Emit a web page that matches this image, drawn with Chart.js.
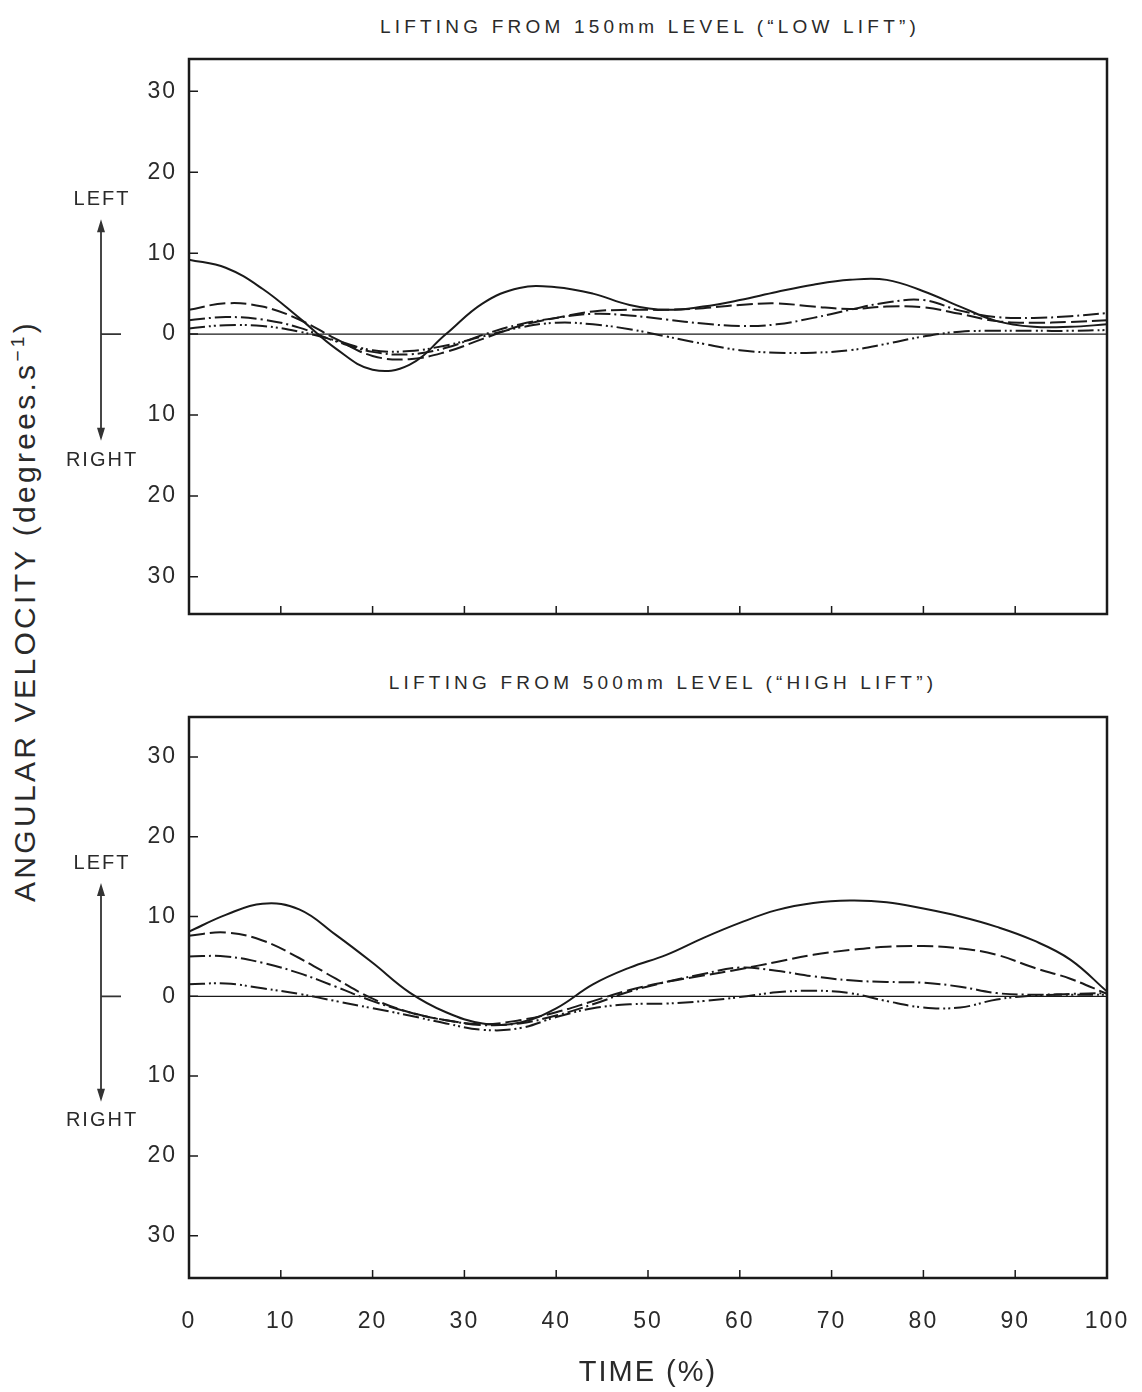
<!DOCTYPE html>
<html lang="en">
<head>
    <meta charset="UTF-8">
    <title>Angular velocity - low lift and high lift</title>
    <script src="https://cdn.jsdelivr.net/npm/chart.js"></script>
    <style>
        body { margin: 0; background: #fff; }
        #page { position: relative; width: 1142px; height: 1392px; font-family: "Liberation Sans", Arial, sans-serif; color: #2a2a2a; }
        .wrap { position: absolute; left: 0; width: 1142px; }
        .title { position: absolute; font-size: 19px; letter-spacing: 4.2px; white-space: nowrap; transform: translate(-50%, -50%); }
        #ytitle { position: absolute; left: 24px; top: 611px; font-size: 30px; letter-spacing: 3.3px; white-space: nowrap;
                  transform: translate(-50%, -50%) rotate(-90deg); }
        #ytitle sup { font-size: 19px; }
    </style>
</head>
<body>
<div id="page">
    <div class="title" style="left:650px; top:27px;">LIFTING FROM 150mm LEVEL (&ldquo;LOW LIFT&rdquo;)</div>
    <div class="title" style="left:663px; top:683px;">LIFTING FROM 500mm LEVEL (&ldquo;HIGH LIFT&rdquo;)</div>
    <div id="ytitle">ANGULAR VELOCITY (degrees.s<sup>&minus;1</sup>)</div>
    <div class="wrap" style="top:0; height:650px;"><canvas id="lowChart"></canvas></div>
    <div class="wrap" style="top:650px; height:742px;"><canvas id="highChart"></canvas></div>
</div>
<script>
// time axis (% of lift), shared by every curve
const timePct = [0, 4, 8, 12, 16, 20, 24, 28, 32, 36, 40, 44, 48, 52, 56, 60, 64, 68, 72, 76, 80, 84, 88, 92, 96, 100];

// low lift (150mm) - degrees/s, positive = left
const lowSolid   = [9.2, 8.2, 5.6, 2.0, -1.8, -4.4, -3.8, 0.0, 3.8, 5.7, 5.8, 5.0, 3.6, 3.0, 3.4, 4.2, 5.2, 6.1, 6.7, 6.7, 5.3, 3.4, 1.6, 0.9, 0.9, 1.2];
const lowDash    = [3.0, 3.8, 3.4, 1.8, -0.6, -2.7, -3.1, -2.2, -0.6, 1.0, 2.0, 2.8, 3.0, 3.0, 3.2, 3.6, 3.8, 3.4, 3.1, 3.4, 3.3, 2.5, 1.6, 1.4, 1.5, 1.7];
const lowDashDot = [1.7, 2.1, 1.8, 0.8, -0.9, -2.2, -2.5, -1.7, -0.1, 1.2, 2.0, 2.5, 2.3, 1.8, 1.3, 1.0, 1.2, 2.0, 3.0, 3.9, 4.2, 2.9, 2.1, 2.0, 2.2, 2.6];
const lowDashDotDot = [0.7, 1.1, 1.0, 0.3, -0.8, -2.0, -2.1, -1.4, -0.3, 0.8, 1.4, 1.2, 0.6, -0.3, -1.2, -2.0, -2.3, -2.3, -2.0, -1.2, -0.3, 0.3, 0.4, 0.4, 0.4, 0.5];

// high lift (500mm)
const highSolid   = [8.1, 10.2, 11.6, 10.9, 7.7, 4.2, 0.5, -2.0, -3.4, -3.3, -1.5, 1.5, 3.6, 5.2, 7.3, 9.2, 10.8, 11.7, 12.0, 11.8, 11.0, 10.0, 8.7, 7.0, 4.6, 0.6];
const highDash    = [7.6, 8.0, 7.0, 4.8, 2.2, -0.3, -2.0, -3.0, -3.5, -3.0, -2.0, -0.6, 0.8, 1.8, 2.6, 3.4, 4.3, 5.2, 5.8, 6.2, 6.3, 6.0, 5.2, 3.6, 2.2, 0.3];
const highDashDot = [5.0, 5.0, 4.2, 2.9, 1.2, -0.6, -2.0, -3.0, -3.6, -3.4, -2.4, -1.0, 0.6, 1.8, 2.8, 3.6, 3.2, 2.5, 2.0, 1.8, 1.7, 1.2, 0.4, 0.2, 0.3, 0.4];
const highDashDotDot = [1.5, 1.6, 1.0, 0.3, -0.6, -1.5, -2.4, -3.4, -4.2, -4.0, -2.6, -1.5, -1.0, -0.9, -0.6, -0.1, 0.5, 0.7, 0.4, -0.6, -1.4, -1.4, -0.4, 0.1, 0.2, 0.2];

const yTickValues = [-30, -20, -10, 0, 10, 20, 30];
const xTickValues = [0, 10, 20, 30, 40, 50, 60, 70, 80, 90, 100];

const INK = '#1a1a1a';
const TEXT = '#2a2a2a';
const FONT = '"Liberation Sans", Arial, sans-serif';

function toPoints(values) {
    return values.map((v, i) => ({ x: timePct[i], y: v }));
}

function lineSet(values, dash) {
    return {
        data: toPoints(values),
        borderColor: INK,
        borderWidth: 2,
        borderDash: dash,
        pointRadius: 0,
        tension: 0.4,
        fill: false
    };
}

// frame, inward ticks, zero line and the LEFT/RIGHT arrow
const framePlugin = {
    id: 'frame',
    beforeDraw(chart) {
        chart.ctx.letterSpacing = '2px';   // wide lettering like the print
    },
    beforeDatasetsDraw(chart) {
        const { ctx, chartArea: a, scales: { y } } = chart;
        const y0 = y.getPixelForValue(0);
        ctx.save();
        ctx.strokeStyle = INK;
        ctx.lineWidth = 1.2;
        ctx.beginPath();
        ctx.moveTo(a.left, y0);
        ctx.lineTo(a.right, y0);
        ctx.stroke();
        ctx.restore();
    },
    afterDatasetsDraw(chart) {
        const { ctx, chartArea: a, scales: { x, y } } = chart;
        ctx.save();
        ctx.strokeStyle = INK;
        ctx.lineWidth = 2.5;
        ctx.strokeRect(a.left, a.top, a.right - a.left, a.bottom - a.top);

        ctx.lineWidth = 1.5;
        ctx.beginPath();
        xTickValues.slice(1, -1).forEach(v => {
            const px = x.getPixelForValue(v);
            ctx.moveTo(px, a.bottom);
            ctx.lineTo(px, a.bottom - 8);
        });
        yTickValues.forEach(v => {
            const py = y.getPixelForValue(v);
            ctx.moveTo(a.left, py);
            ctx.lineTo(a.left + 9, py);
        });
        ctx.stroke();

        // LEFT / RIGHT direction arrow
        const ax = 101;
        const top = y.getPixelForValue(14.2);
        const bot = y.getPixelForValue(-13.2);
        const y0 = y.getPixelForValue(0);
        ctx.strokeStyle = '#333';
        ctx.fillStyle = '#333';
        ctx.lineWidth = 1.8;
        ctx.beginPath();
        ctx.moveTo(ax, top + 8);
        ctx.lineTo(ax, bot - 8);
        ctx.moveTo(ax, y0);
        ctx.lineTo(ax + 20, y0);
        ctx.stroke();
        ctx.beginPath();
        ctx.moveTo(ax, top);
        ctx.lineTo(ax - 4, top + 13);
        ctx.lineTo(ax + 4, top + 13);
        ctx.closePath();
        ctx.moveTo(ax, bot);
        ctx.lineTo(ax - 4, bot - 13);
        ctx.lineTo(ax + 4, bot - 13);
        ctx.closePath();
        ctx.fill();

        ctx.fillStyle = TEXT;
        ctx.font = '20px ' + FONT;
        ctx.letterSpacing = '2px';
        ctx.textAlign = 'center';
        ctx.textBaseline = 'middle';
        ctx.fillText('LEFT', ax + 1, y.getPixelForValue(16.6));
        ctx.fillText('RIGHT', ax + 1, y.getPixelForValue(-15.6));
        ctx.restore();
    }
};

function makeChart(id, series, opts) {
    const ctx = document.getElementById(id).getContext('2d');
    return new Chart(ctx, {
        type: 'line',
        data: {
            datasets: [
                lineSet(series[0], []),
                lineSet(series[1], [16, 5]),
                lineSet(series[2], [16, 4, 2, 4]),
                lineSet(series[3], [16, 4, 2, 3, 2, 4])
            ]
        },
        options: {
            responsive: true,
            maintainAspectRatio: false,
            animation: false,
            layout: { padding: { left: 129, right: 35, top: opts.top, bottom: 0 } },
            plugins: { legend: { display: false }, tooltip: { enabled: false } },
            scales: {
                x: {
                    type: 'linear',
                    min: 0,
                    max: 100,
                    afterBuildTicks: s => { s.ticks = xTickValues.map(v => ({ value: v })); },
                    afterFit: s => { s.height = opts.xHeight; s.paddingLeft = 0; s.paddingRight = 0; },
                    grid: { display: false, drawTicks: false },
                    border: { display: false },
                    ticks: {
                        display: opts.showX,
                        padding: 30,
                        maxRotation: 0,
                        color: TEXT,
                        font: { family: FONT, size: 23 }
                    },
                    title: {
                        display: opts.showX,
                        text: 'TIME (%)',
                        color: TEXT,
                        font: { family: FONT, size: 29 },
                        padding: { top: 0, bottom: 2 }
                    }
                },
                y: {
                    min: opts.ymin,
                    max: opts.ymax,
                    afterBuildTicks: s => { s.ticks = yTickValues.map(v => ({ value: v })); },
                    afterFit: s => { s.width = 60; },
                    grid: { display: false, drawTicks: false },
                    border: { display: false },
                    ticks: {
                        padding: 12,
                        color: TEXT,
                        font: { family: FONT, size: 23 },
                        callback: v => String(Math.abs(v))
                    }
                }
            }
        },
        plugins: [framePlugin]
    });
}

makeChart('lowChart', [lowSolid, lowDash, lowDashDot, lowDashDotDot],
    { top: 59, xHeight: 36, showX: false, ymin: -34.6, ymax: 34.0 });
makeChart('highChart', [highSolid, highDash, highDashDot, highDashDotDot],
    { top: 67, xHeight: 114, showX: true, ymin: -35.3, ymax: 35.0 });
</script>
</body>
</html>
